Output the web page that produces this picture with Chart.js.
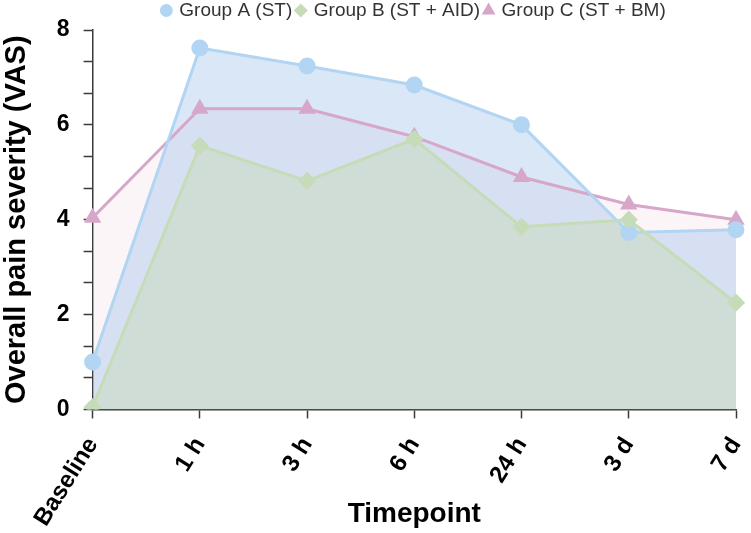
<!DOCTYPE html>
<html>

<head>
    <meta charset="UTF-8">
    <title>Overall pain severity</title>
    <style>
        body {
            margin: 0;
            background: #fff;
        }

        #wrap {
            width: 751px;
            height: 533px;
        }
    </style>
</head>

<body>
    <div id="wrap"><canvas id="chart"></canvas></div>

    <script src="https://cdn.jsdelivr.net/npm/chart.js"></script>
    <script>
        const timepoints = ["Baseline", "1 h", "3 h", "6 h", "24 h", "3 d", "7 d"];
        const groupA = [1.0, 7.62, 7.24, 6.84, 6.0, 3.73, 3.79];   // ST
        const groupB = [0.05, 5.56, 4.82, 5.7, 3.85, 4.0, 2.25];   // ST + AID
        const groupC = [4.04, 6.34, 6.34, 5.75, 4.9, 4.32, 4.0];   // ST + BM
        const yTicks = [0, 2 / 3, 4 / 3, 2, 8 / 3, 10 / 3, 4, 14 / 3, 16 / 3, 6, 20 / 3, 22 / 3, 8];

        const font = "'Liberation Sans', Arial, sans-serif";
        const axisColor = "#3a3a3a";

        const ctx = document.querySelector("#chart").getContext("2d");
        const chart = new Chart(ctx, {
            type: "line",
            data: {
                labels: timepoints,
                datasets: [{
                    label: "Group A (ST)",
                    data: groupA,
                    order: 1,
                    borderColor: "#b1d5f2",
                    backgroundColor: "rgba(140, 180, 230, 0.32)",
                    pointBackgroundColor: "#b1d5f2",
                    pointBorderColor: "#b1d5f2",
                    pointStyle: "circle",
                    pointRadius: 7,
                    borderWidth: 3,
                    fill: "origin",
                }, {
                    label: "Group B (ST + AID)",
                    data: groupB,
                    order: 0,
                    borderColor: "#c6dcb8",
                    backgroundColor: "rgba(200, 218, 185, 0.5)",
                    pointBackgroundColor: "#c6dcb8",
                    pointBorderColor: "#c6dcb8",
                    pointStyle: "rectRot",
                    pointRadius: 7,
                    borderWidth: 3,
                    fill: "origin",
                }, {
                    label: "Group C (ST + BM)",
                    data: groupC,
                    order: 2,
                    borderColor: "#d6a7c9",
                    backgroundColor: "rgba(240, 215, 225, 0.25)",
                    pointBackgroundColor: "#d6a7c9",
                    pointBorderColor: "#d6a7c9",
                    pointStyle: "triangle",
                    pointRadius: 7,
                    borderWidth: 3,
                    fill: "origin",
                }],
            },
            options: {
                responsive: true,
                maintainAspectRatio: false,
                animation: false,
                layout: {
                    padding: { left: 0, right: 15, top: -4, bottom: 0 },
                },
                plugins: {
                    filler: { drawTime: "beforeDatasetsDraw" },
                    tooltip: { enabled: false },
                    legend: {
                        position: "top",
                        fullSize: false,
                        labels: {
                            usePointStyle: true,
                            boxWidth: 7,
                            boxHeight: 7,
                            padding: 5,
                            color: "#333",
                            font: { family: font, size: 19 },
                            sort: (a, b) => a.datasetIndex - b.datasetIndex,
                        },
                    },
                },
                scales: {
                    x: {
                        offset: false,
                        afterFit: (scale) => {
                            // last label is rotated and ends at its tick, no room needed on the right
                            scale.paddingRight = 0;
                        },
                        grid: {
                            drawOnChartArea: false,
                            tickLength: 9,
                            tickColor: axisColor,
                            tickWidth: 1.5,
                        },
                        border: { color: axisColor, width: 1.5 },
                        ticks: {
                            color: "#000",
                            minRotation: 58,
                            maxRotation: 58,
                            padding: 14,
                            font: { family: font, size: 24, weight: "bold" },
                        },
                        title: {
                            display: true,
                            text: "Timepoint",
                            color: "#000",
                            padding: { top: -48, bottom: 2 },
                            font: { family: font, size: 28, weight: "bold" },
                        },
                    },
                    y: {
                        min: 0,
                        max: 8,
                        afterBuildTicks: (scale) => {
                            scale.ticks = yTicks.map((v) => ({ value: v }));
                        },
                        grid: {
                            drawOnChartArea: false,
                            tickLength: 9,
                            tickColor: axisColor,
                            tickWidth: 1.5,
                        },
                        border: { color: axisColor, width: 1.5 },
                        ticks: {
                            color: "#000",
                            padding: 14,
                            autoSkip: false,
                            font: { family: font, size: 23, weight: "bold" },
                            callback: (v) => {
                                const r = Math.round(v);
                                return Math.abs(v - r) < 1e-6 && r % 2 === 0 ? String(r) : "";
                            },
                        },
                        title: {
                            display: true,
                            text: "Overall pain severity (VAS)",
                            color: "#000",
                            padding: { top: 0, bottom: 8 },
                            font: { family: font, size: 29, weight: "bold" },
                        },
                    },
                },
            },
        });
    </script>
</body>

</html>
